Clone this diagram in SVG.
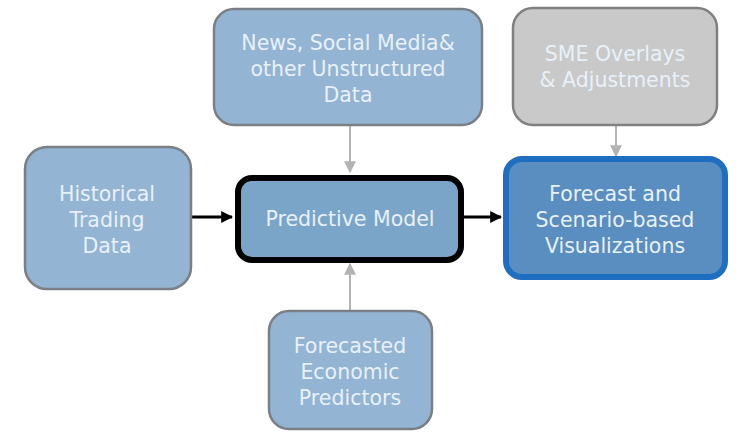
<svg xmlns="http://www.w3.org/2000/svg" width="750" height="438" viewBox="0 0 750 438">
<defs>
<style>
.t{font-family:"DejaVu Sans","Liberation Sans",sans-serif;font-size:20.5px;fill:#e8f1fa;text-anchor:middle}
.src{fill:#93b4d3;stroke:#7a7f85;stroke-width:2.5}
.gray{fill:#c9c9c9;stroke:#808080;stroke-width:2.5}
.blk{stroke:#000;stroke-width:3;fill:none}
.gry{stroke:#b3b3b3;stroke-width:2;fill:none}
</style>
<marker id="ab" viewBox="0 0 10 10" refX="9" refY="5" markerWidth="4" markerHeight="4" orient="auto"><path d="M0,0L10,5L0,10z" fill="#000"/></marker>
<marker id="ag" viewBox="0 0 10 10" refX="9" refY="5" markerWidth="6" markerHeight="6" orient="auto"><path d="M0,0L10,5L0,10z" fill="#b3b3b3"/></marker>
</defs>
<rect width="750" height="438" fill="#fff"/>
<g id="connectors">
<line class="blk" x1="192" y1="217" x2="232" y2="217" marker-end="url(#ab)"/>
<line class="blk" x1="464" y1="217" x2="501" y2="217" marker-end="url(#ab)"/>
<line class="gry" x1="350" y1="126" x2="350" y2="172" marker-end="url(#ag)"/>
<line class="gry" x1="616" y1="126" x2="616" y2="156" marker-end="url(#ag)"/>
<line class="gry" x1="350" y1="310" x2="350" y2="264" marker-end="url(#ag)"/>
</g>
<g id="historical">
<rect class="src" x="25" y="147" width="166" height="142" rx="22"/>
<text class="t" x="107" y="201">Historical</text>
<text class="t" x="107" y="227">Trading</text>
<text class="t" x="107" y="253">Data</text>
</g>
<g id="news">
<rect class="src" x="214" y="9" width="268" height="116" rx="20"/>
<text class="t" x="348" y="50">News, Social Media&amp;</text>
<text class="t" x="348" y="76">other Unstructured</text>
<text class="t" x="348" y="102">Data</text>
</g>
<g id="predictive">
<rect x="238" y="178" width="223" height="82" rx="14" fill="#7ba4c9" stroke="#000" stroke-width="6"/>
<text class="t" x="350" y="226">Predictive Model</text>
</g>
<g id="sme">
<rect class="gray" x="513" y="8" width="204" height="117" rx="20"/>
<text class="t" x="615" y="61">SME Overlays</text>
<text class="t" x="615" y="87">&amp; Adjustments</text>
</g>
<g id="forecast">
<rect x="506" y="159" width="219" height="118" rx="16" fill="#5a8dc0" stroke="#1e6fc0" stroke-width="6"/>
<text class="t" x="615" y="201">Forecast and</text>
<text class="t" x="615" y="227">Scenario-based</text>
<text class="t" x="615" y="253">Visualizations</text>
</g>
<g id="economic">
<rect class="src" x="269" y="311" width="163" height="118" rx="20"/>
<text class="t" x="350" y="353">Forecasted</text>
<text class="t" x="350" y="379">Economic</text>
<text class="t" x="350" y="405">Predictors</text>
</g>
</svg>
